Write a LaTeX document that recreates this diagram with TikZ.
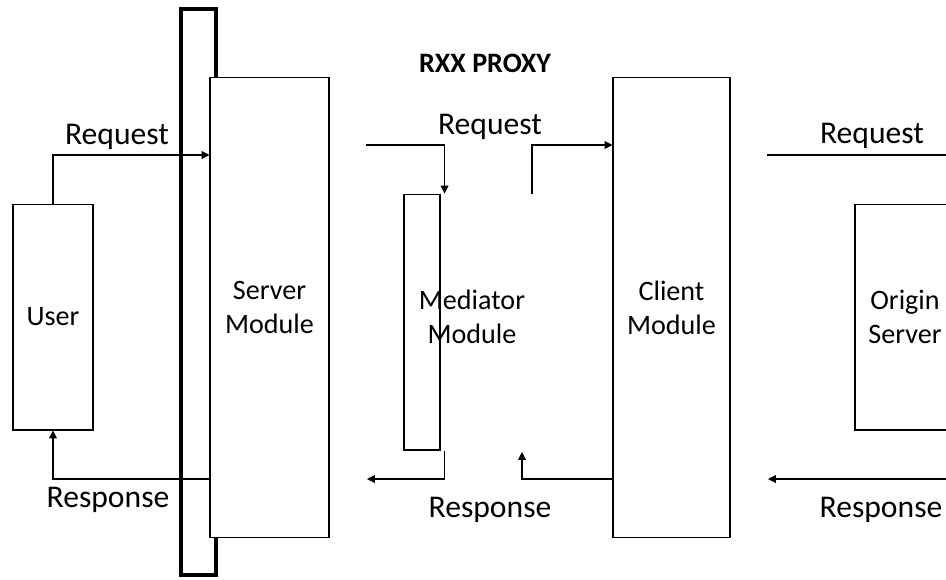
\documentclass[tikz,border=0pt]{standalone}
\usepackage{fontspec}
\setmainfont{Carlito}
\usepackage{tikz}
\usetikzlibrary{positioning, arrows.meta}

\begin{document}
\begin{tikzpicture}[x=0.02cm, y=-0.02cm,
    boite/.style={draw, line width=0.6pt, fill=white, inner sep=0pt, align=center, font=\fontsize{16}{19.5}\selectfont},
    fleche/.style={line width=0.6pt, -{Triangle[length=4.5pt, width=4.5pt]}},
    trait/.style={line width=0.6pt},
    etiq/.style={anchor=base, inner sep=0pt, font=\fontsize{18}{22}\selectfont}]
  % Diagramme du proxy RXX
  \useasboundingbox (0,0) rectangle (946,579);
  \clip (0,0) rectangle (946,579);
  \draw[line width=2pt] (181,9) rectangle (216,575);
  \node[boite, minimum width=1.6cm, minimum height=4.52cm] (user) at (53,317) {User};
  \node[boite, minimum width=2.38cm, minimum height=9.22cm] (server) at (269.5,307.5) {Server\\Module};
  \node[boite, minimum width=0.72cm, minimum height=5.12cm] (mediator) at (422,322) {};
  \node[boite, minimum width=2.34cm, minimum height=9.22cm] (client) at (671.5,307.5) {Client\\Module};
  \node[boite, minimum width=2cm, minimum height=4.52cm] (origin) at (905,317) {Origin\\Server};
  \node[align=center, inner sep=0pt, font=\fontsize{16}{19.5}\selectfont] (medtexte) at (472,317) {Mediator\\Module};
  \node[anchor=base, inner sep=0pt, font=\fontsize{16}{19.5}\selectfont\bfseries] (titre) at (485,72) {RXX PROXY};
  \coordinate (hautreq) at (0,155);
  \coordinate (basrep) at (0,479);
  \coordinate (medin) at (366,145);
  \coordinate (medout) at (532,194);
  \coordinate (medrep) at (367,479);
  \coordinate (clirep) at (522,452);
  \coordinate (reqorig) at (767,155);
  \coordinate (reporig) at (768,479);
  \draw[fleche] (user.north) |- (server.west |- hautreq);
  \draw[fleche] (server.west |- basrep) -| (user.south);
  \draw[fleche] (medin) -| ([xshift=2.3pt]mediator.north east);
  \draw[fleche] (medout) |- (client.west |- medin);
  \draw[fleche] ([xshift=2.3pt,yshift=-0.5pt]mediator.south east) |- (medrep);
  \draw[fleche] (client.west |- basrep) -| (clirep);
  \draw[trait] (reqorig) -- (origin.north east |- hautreq);
  \draw[fleche] (origin.east |- basrep) -- (reporig);
  \node[etiq] (req1) at (117,144) {Request};
  \node[etiq] (rep1) at (108,507) {Response};
  \node[etiq] (req2) at (490,134) {Request};
  \node[etiq] (rep2) at (490,517) {Response};
  \node[etiq] (req3) at (872,143) {Request};
  \node[etiq] (rep3) at (881,517) {Response};
\end{tikzpicture}
\end{document}
